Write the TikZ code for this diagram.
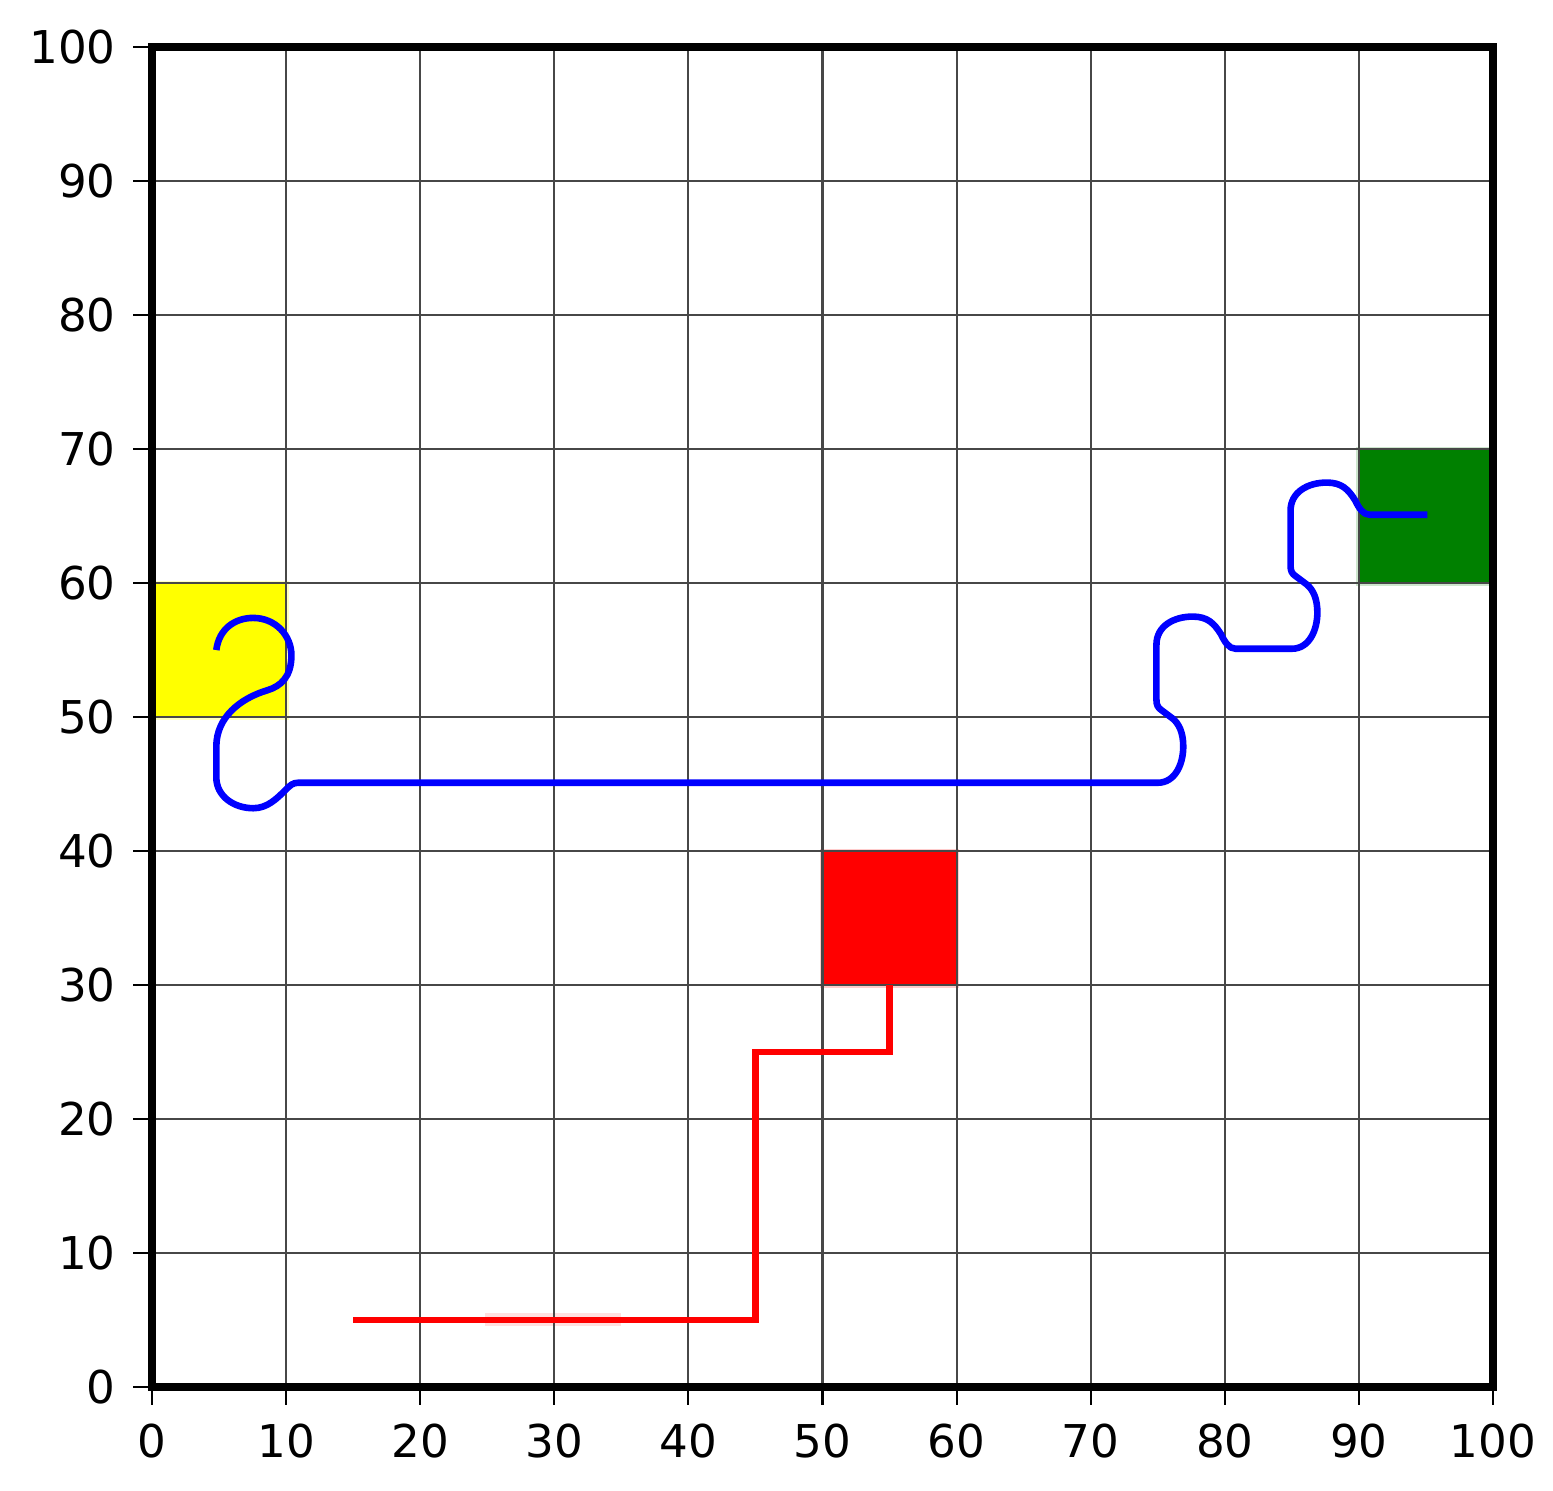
\documentclass[tikz,border=0pt]{standalone}
\usepackage{fontspec}
\setmainfont{DejaVu Sans}
\definecolor{mplblue}{RGB}{0,0,255}
\definecolor{mplred}{RGB}{255,0,0}
\definecolor{mplgreen}{RGB}{0,128,0}
\definecolor{mplyellow}{RGB}{255,255,0}
\definecolor{greenhalo}{RGB}{205,230,205}
\begin{document}
\begin{tikzpicture}[x=6.705pt,y=6.7pt,
  gridline/.style={draw=black!72, line width=1.1pt},
  frameline/.style={draw=black, line width=4pt},
  tickmark/.style={draw=black, line width=1.1pt},
  ticklabel/.style={font=\fontsize{22.6pt}{27pt}\selectfont, inner sep=0pt, text=black},
  bluepath/.style={draw=mplblue, line width=3.3pt, line join=round},
  redpath/.style={draw=mplred, line width=3.3pt, line join=miter},
  halo/.style={line width=2.5pt}]
\useasboundingbox (-11.33,-7.69) rectangle (104.47,103.51);
\fill[white] (-11.33,-7.69) rectangle (104.47,103.51);

% coloured squares
\draw[halo, draw=mplyellow!25] (0,50) rectangle (10,60);
\fill[mplyellow] (0,50) rectangle (10,60);
\draw[halo, draw=greenhalo] (90,60) rectangle (100,70);
\fill[mplgreen] (90,60) rectangle (100,70);
\draw[halo, draw=mplred!20] (50,30) rectangle (60,40);
\fill[mplred] (50,30) rectangle (60,40);
\fill[mplred!12] (24.8,4.6) rectangle (35,5.5);

% grid
\foreach \v in {10,20,...,90} {
  \draw[gridline] (\v,0) -- (\v,100);
  \draw[gridline] (0,\v) -- (100,\v);
}

% red path
\draw[redpath] (15,5) -- (45,5) -- (45,25) -- (55,25) -- (55,30);

% blue path
\draw[bluepath] (4.8,55)
  .. controls (5.0,56.6) and (6.2,57.4) .. (7.55,57.4)
  .. controls (9.2,57.4) and (10.4,56.1) .. (10.4,54.6)
  .. controls (10.4,53.0) and (9.6,52.3) .. (8.6,52.0)
  .. controls (6.6,51.4) and (4.8,50.0) .. (4.8,47.8)
  -- (4.8,45.5)
  .. controls (4.8,44.1) and (6.1,43.2) .. (7.55,43.2)
  .. controls (8.6,43.2) and (9.3,43.9) .. (10.0,44.6)
  .. controls (10.3,44.9) and (10.5,45.1) .. (10.9,45.1)
  -- (75,45.1)
  .. controls (76.3,45.1) and (76.9,46.5) .. (76.9,47.8)
  .. controls (76.9,48.8) and (76.6,49.5) .. (76.1,49.9)
  -- (75.3,50.5)
  .. controls (75.0,50.7) and (74.9,50.9) .. (74.9,51.3)
  -- (74.9,55.4)
  .. controls (74.9,56.8) and (76.2,57.5) .. (77.6,57.5)
  .. controls (78.7,57.5) and (79.2,57.0) .. (79.7,56.2)
  .. controls (80.0,55.6) and (80.3,55.1) .. (80.8,55.1)
  -- (85,55.1)
  .. controls (86.3,55.1) and (86.9,56.5) .. (86.9,57.8)
  .. controls (86.9,58.8) and (86.6,59.5) .. (86.1,59.9)
  -- (85.3,60.5)
  .. controls (85.0,60.7) and (84.9,60.9) .. (84.9,61.3)
  -- (84.9,65.4)
  .. controls (84.9,66.8) and (86.2,67.5) .. (87.6,67.5)
  .. controls (88.7,67.5) and (89.2,67.0) .. (89.7,66.2)
  .. controls (90.0,65.6) and (90.3,65.1) .. (90.8,65.1)
  -- (95.1,65.1);

% frame
\draw[frameline] (0,0) rectangle (100,100);

% ticks and labels
\foreach \v in {0,10,...,100} {
  \draw[tickmark] (\v,0) -- (\v,-1.35);
  \draw[tickmark] (0,\v) -- (-1.4,\v);
  \node[ticklabel, anchor=base] (xl\v) at (\v,-5.25) {\v};
  \node[ticklabel, anchor=base east] (yl\v) at (-2.68,\v-1.23) {\v};
}
\end{tikzpicture}
\end{document}
